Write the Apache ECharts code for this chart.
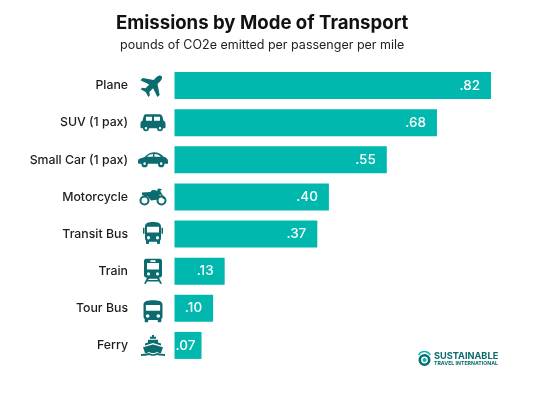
<!DOCTYPE html>
<html><head><meta charset="utf-8">
<style>html,body{margin:0;padding:0;background:#fff}#c{width:542px;height:395px}</style>
<script src="https://cdn.jsdelivr.net/npm/echarts@6/dist/echarts.min.js"></script>
</head><body><div id="c"></div>
<script>
const categories = ['Plane','SUV (1 pax)','Small Car (1 pax)','Motorcycle','Transit Bus','Train','Tour Bus','Ferry'];
const values = [0.82,0.68,0.55,0.40,0.37,0.13,0.10,0.07];
const valueLabels = ['.82','.68','.55','.40','.37','.13','.10','.07'];
const titleText = 'Emissions by Mode of Transport';
const subtitleText = 'pounds of CO2e emitted per passenger per mile';

const TEAL = '#00b8ae', DARK = '#0b6b6e', INK = '#1c1c1c';
const FONT = 'Inter';

const plane = 'path://M12 1C13.5 1 14.5 3 14.5 5V9L23 15V18L14.5 15V20L17 22V24L12 22.5L7 24V22L9.5 20V15L1 18V15L9.5 9V5C9.5 3 10.5 1 12 1Z';
const suv = 'path://M10 0H38C41 0 43 2 44 5L46 13C49 14 50 16 50 19V26C50 27 49 28 48 28H45A6 6 0 0 1 33 28H17A6 6 0 0 1 5 28H2C1 28 0 27 0 26V19C0 16 1 14 4 13L6 5C7 2 8 0 10 0ZM11 5V13H23V5ZM27 5V13H39V5ZM36.5 28A2.5 2.5 0 0 0 41.5 28A2.5 2.5 0 0 0 36.5 28ZM8.5 28A2.5 2.5 0 0 0 13.5 28A2.5 2.5 0 0 0 8.5 28Z';
const car = 'path://M2 14C8 12 12 11 14 10C20 4 26 2 34 2C42 2 47 6 51 10C56 11 60 13 60 18V22H53A6.5 6.5 0 0 1 40 22H20A6.5 6.5 0 0 1 7 22H1C0 20 0 16 2 14ZM18 10L30 10L30 5C25 5 21 7 18 10ZM33 10L46 10C43 7 39 5 33 5ZM44 22A2.5 2.5 0 0 0 49 22A2.5 2.5 0 0 0 44 22ZM11 22A2.5 2.5 0 0 0 16 22A2.5 2.5 0 0 0 11 22Z';
const moto = 'path://M0 24A10 10 0 0 1 20 24A10 10 0 0 1 0 24ZM4 24A6 6 0 0 0 16 24A6 6 0 0 0 4 24ZM34 24A10 10 0 0 1 54 24A10 10 0 0 1 34 24ZM38 24A6 6 0 0 0 50 24A6 6 0 0 0 38 24ZM5 8L22 7C24 3 30 2 35 5L37 0L44 1L44 4L41 4L50 20L47 21L41 11L37 22L23 24L16 15L5 13Z';
const bus = 'path://M4 16c0 .88.39 1.67 1 2.22V20c0 .55.45 1 1 1h1c.55 0 1-.45 1-1v-1h8v1c0 .55.45 1 1 1h1c.55 0 1-.45 1-1v-1.78c.61-.55 1-1.34 1-2.22V6c0-3.5-3.58-4-8-4s-8 .5-8 4v10zm3.5 1c-.83 0-1.5-.67-1.5-1.5S6.67 14 7.5 14s1.5.67 1.5 1.5S8.33 17 7.5 17zm9 0c-.83 0-1.5-.67-1.5-1.5s.67-1.5 1.5-1.5 1.5.67 1.5 1.5-.67 1.5-1.5 1.5zm1.5-6H6V6h12v5z';
const transit = bus + 'M2 7h1.5v5H2zM20.5 7H22v5h-1.5z';
const train = 'path://M5 1H19C20 1 21 2 21 3V16C21 17.5 20 18.5 18 18.5L21 24H19L18 22H6L5 24H3L6 18.5C4 18.5 3 17.5 3 16V3C3 2 4 1 5 1ZM6 5V11H18V5ZM9.5 2.5V4H14.5V2.5ZM6 15A1.5 1.5 0 0 0 9 15A1.5 1.5 0 0 0 6 15ZM15 15A1.5 1.5 0 0 0 18 15A1.5 1.5 0 0 0 15 15ZM8 19.5L7 20.5H17L16 19.5Z';
const ferry = 'path://M11 0H13V2H15V4H9V2H11ZM7 5H17V8L20 9V11L12 8.5L4 11V9L7 8ZM12 10L22 13L20 19C18 19 17 18.5 16 17.5C14 19.5 10 19.5 8 17.5C7 18.5 6 19 4 19L2 13ZM0 20C2 20 4 20 8 19C10 20.5 14 20.5 16 19C20 20 22 20 24 20V22C20 22 18 21.5 16 21C14 22 10 22 8 21C6 21.5 4 22 0 22Z';

const icons = [
  {symbol:plane, size:[24,24], rotate:-45, dy:-1},
  {symbol:suv,   size:[25,17], rotate:0, dy:0},
  {symbol:car,   size:[30,15], rotate:0, dy:0},
  {symbol:moto,  size:[27,17], rotate:0, dy:0},
  {symbol:transit, size:[20,22], rotate:0, dy:-1},
  {symbol:train, size:[18,25], rotate:0, dy:0},
  {symbol:bus,   size:[19,22], rotate:0, dy:3},
  {symbol:ferry, size:[24,21], rotate:0, dy:0}
];

const chart = echarts.init(document.getElementById('c'), null, {renderer:'canvas'});
chart.setOption({
  animation:false,
  backgroundColor:'#fff',
  title:[
    {text:titleText, left:111, top:9, textStyle:{fontFamily:FONT,fontSize:18.6,fontWeight:700,color:'#111'}},
    {text:subtitleText, left:115, top:34, textStyle:{fontFamily:FONT,fontSize:12.5,fontWeight:400,color:'#222'}}
  ],
  grid:{left:174.5, top:67, width:316.5, height:297},
  xAxis:{type:'value', min:0, max:0.82, show:false},
  yAxis:{type:'category', inverse:true, data:categories,
    axisLine:{show:false}, axisTick:{show:false},
    axisLabel:{margin:46.5, fontFamily:FONT, fontSize:12.3, fontWeight:500, color:INK}},
  series:[
    {type:'bar', barWidth:27, itemStyle:{color:TEAL},
     data:values.map((v,i)=>({value:v,
       label:{show:true, position:'insideRight', distance:i===7?6:11, formatter:valueLabels[i],
         fontFamily:FONT, fontSize:13.5, fontWeight:500, color:'#fff'}}))},
    {type:'scatter', clip:false, silent:true,
     data:values.map((v,i)=>({value:[0,categories[i]],
       symbol:icons[i].symbol, symbolSize:icons[i].size, symbolRotate:icons[i].rotate,
       symbolOffset:[-21.5,icons[i].dy], itemStyle:{color:DARK,opacity:1}}))}
  ],
  graphic:[
    {type:'ring', shape:{cx:424.5,cy:360,r:6,r0:3.4}, style:{fill:DARK}},
    {type:'circle', shape:{cx:424.5,cy:360,r:2}, style:{fill:TEAL}},
    {type:'arc', shape:{cx:424.5,cy:358,r:6.5,startAngle:Math.PI*1.15,endAngle:Math.PI*1.85}, style:{stroke:TEAL,lineWidth:1.5,fill:'none'}},
    {type:'text', style:{text:'SUSTAINABLE', x:434, y:351.5, font:'700 9.2px Inter', fill:DARK}},
    {type:'text', style:{text:'TRAVEL INTERNATIONAL', x:434, y:361, font:'700 5.2px Inter', fill:DARK}}
  ]
});
</script></body></html>
